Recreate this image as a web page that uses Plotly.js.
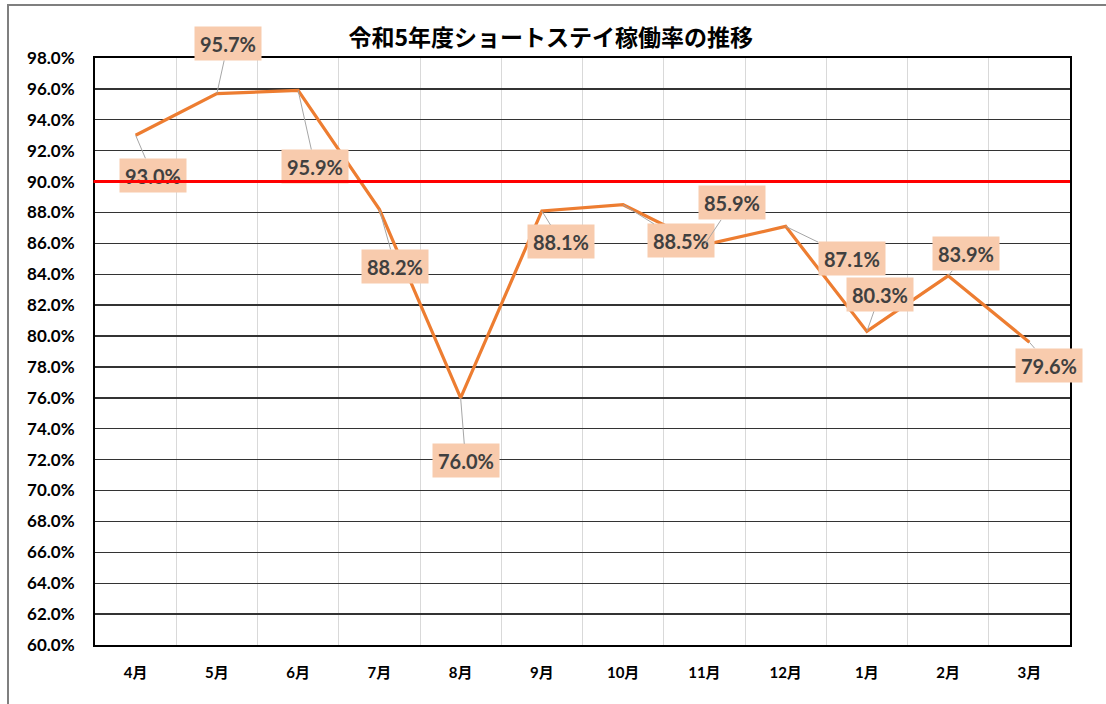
<!DOCTYPE html>
<html>
<head>
<meta charset="utf-8">
<script src="https://cdn.plot.ly/plotly-3.0.1.min.js"></script>
<style>
  html, body { margin: 0; padding: 0; background: #fff; }
  #wrap { position: relative; width: 1106px; height: 704px; overflow: hidden; }
  #chart { width: 1106px; height: 704px; }
  #frame { position: absolute; left: 7px; top: 4px; width: 1120px; height: 720px;
           border: 2px solid #7f7f7f; box-sizing: border-box; pointer-events: none; }
</style>
</head>
<body>
<div id="wrap">
  <div id="chart"></div>
  <div id="frame"></div>
</div>
<script>
// ---- data ----
const months = ["4月", "5月", "6月", "7月", "8月", "9月", "10月", "11月", "12月", "1月", "2月", "3月"];
const occupancy = [93.0, 95.7, 95.9, 88.2, 76.0, 88.1, 88.5, 85.9, 87.1, 80.3, 83.9, 79.6];
const targetRate = 90.0;
const yTickValues = [60, 62, 64, 66, 68, 70, 72, 74, 76, 78, 80, 82, 84, 86, 88, 90, 92, 94, 96, 98];
const yTickLabels = yTickValues.map(v => v.toFixed(1) + "%");
const titleText = "令和5年度ショートステイ稼働率の推移";

// ---- label placement (pixel offsets of each data label from its point) ----
const labelOffsets = [
  [17, 40], [11, -50], [17, 76], [16, 57], [5, 63], [19, 31],
  [58, 36], [28, -42], [66, 32], [13, -37], [18, -22], [20, 23]
];

const latin = "Lato, 'Noto Sans CJK JP', sans-serif";

const trace = {
  type: "scatter",
  mode: "lines",
  x: months,
  y: occupancy,
  line: { color: "#ED7D31", width: 3.2 },
  hoverinfo: "skip"
};

const annotations = months.map((m, i) => ({
  x: m, y: occupancy[i], xref: "x", yref: "y",
  text: "<b>" + occupancy[i].toFixed(1) + "%</b>",
  showarrow: true, arrowhead: 0, arrowwidth: 1, arrowcolor: "#A6A6A6",
  ax: labelOffsets[i][0], ay: labelOffsets[i][1],
  width: 62, height: 29, align: "center", valign: "middle",
  bgcolor: "#F8CBAD", borderpad: 2,
  font: { family: latin, size: 20, color: "#404040" }
}));

// target line drawn as an annotation arrow so it sits above the labels
annotations.push({
  x: 1, xref: "paper", y: targetRate, yref: "y",
  text: "", showarrow: true, arrowhead: 0, arrowwidth: 3, arrowcolor: "#FF0000",
  ax: -978, ay: 0, standoff: 0, startstandoff: 0
});

const layout = {
  width: 1106, height: 704,
  margin: { l: 95, r: 36, t: 58, b: 59 },
  paper_bgcolor: "rgba(0,0,0,0)",
  plot_bgcolor: "#ffffff",
  showlegend: false,
  title: {
    text: "<b>" + titleText + "</b>",
    x: 0.498, xanchor: "center", y: 0.946, yanchor: "middle",
    font: { family: "'Noto Sans CJK JP', sans-serif", size: 23, color: "#000000" }
  },
  xaxis: {
    type: "category",
    range: [-0.5, 11.5], autorange: false,
    tickson: "boundaries",
    showgrid: true, gridcolor: "#D9D9D9", gridwidth: 1,
    showline: true, linecolor: "#000000", linewidth: 2, mirror: true,
    ticks: "", ticklabelstandoff: 13,
    tickfont: { family: latin, size: 15, color: "#000000", weight: "bold" },
    fixedrange: true
  },
  yaxis: {
    range: [60, 98], autorange: false,
    tickmode: "array",
    tickvals: yTickValues,
    ticktext: yTickLabels,
    showgrid: true, gridcolor: "#333333", gridwidth: 1.4,
    showline: true, linecolor: "#000000", linewidth: 2, mirror: true,
    zeroline: false,
    ticks: "", ticklabelstandoff: 15,
    tickfont: { family: latin, size: 17, color: "#000000", weight: "bold" },
    fixedrange: true
  },
  annotations: annotations
};

Plotly.newPlot("chart", [trace], layout, { staticPlot: true, displayModeBar: false });
</script>
</body>
</html>
